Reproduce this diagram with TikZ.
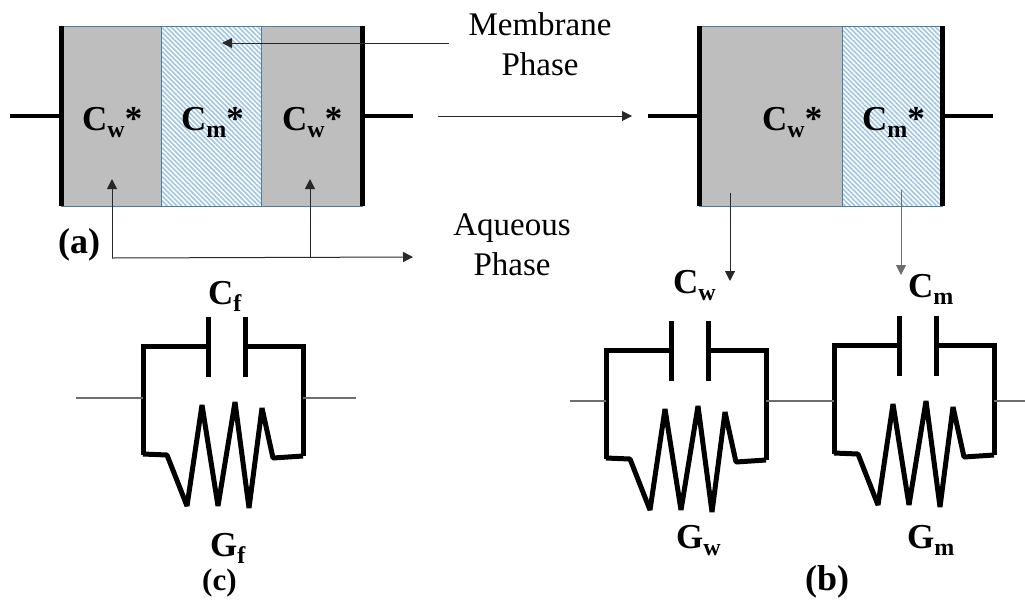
\documentclass[tikz,border=0pt]{standalone}
\usepackage{xcolor}
\usepackage{fontspec}
\setmainfont{Liberation Serif}
\usepackage{tikz}
\usetikzlibrary{arrows.meta, positioning, patterns.meta}
\definecolor{myedge}{RGB}{75,125,165}
\definecolor{mygray}{RGB}{190,190,190}
\definecolor{myhatch}{RGB}{160,198,228}
\definecolor{mywire}{RGB}{110,110,110}
\definecolor{mythin}{RGB}{40,40,40}
\newcommand{\symb}[2]{\textbf{#1\raisebox{-0.2em}{\fontsize{24}{24}\selectfont #2}}}
\tikzset{
  graycell/.style={rectangle, draw=myedge, fill=mygray, line width=1pt,
    minimum height=180pt, inner sep=0pt, outer sep=0pt},
  hatchcell/.style={rectangle, draw=myedge, line width=1pt,
    pattern={Lines[angle=-45,distance=3.4pt,line width=1.6pt]}, pattern color=myhatch,
    minimum height=180pt, inner sep=0pt, outer sep=0pt},
  bar/.style={line width=5pt, color=black, line cap=butt},
  lead/.style={line width=4.5pt, color=black},
  wire/.style={line width=1.1pt, color=mywire},
  arrow/.style={-{Triangle[length=10pt,width=10pt]}, line width=1pt, color=mythin},
  cell/.style={anchor=base west, inner sep=0pt, font=\fontsize{35}{36}\selectfont},
  tag/.style={anchor=base west, inner sep=0pt, font=\fontsize{36}{38}\selectfont\bfseries},
  caption/.style={align=center, inner sep=0pt, font=\fontsize{33}{39.5}\selectfont},
  circ/.style={line width=5pt, color=black, line join=miter},
  zigzag/.style={line width=5pt, color=black, line join=bevel},
  pics/rcunit/.style={code={
    \coordinate (-l) at (0,51);
    \coordinate (-r) at (160,51);
    \draw[circ] (65,-29) -- (65,31);
    \draw[circ] (102,-29) -- (102,31);
    \draw[circ] (0,109) -- (0,0) -- (65,0);
    \draw[circ] (102,0) -- (160,0) -- (160,110);
    \draw[zigzag] (0,108) -- (24,109) -- (44,160) -- (59,59) -- (75,160) -- (92,56)
      -- (106,162) -- (119,62) -- (130,112) -- (160,110);
  }}
}
\begin{document}
\begin{tikzpicture}[x=1pt, y=-1pt, node distance=0pt]
  \useasboundingbox (0,0) rectangle (1025,606);

  % panel a
  \node[graycell, minimum width=100pt, anchor=north west] (wleft) at (61,26) {};
  \node[hatchcell, minimum width=100pt, right=of wleft] (mmid) {};
  \node[graycell, minimum width=101pt, right=of mmid] (wright) {};
  \draw[bar] (wleft.north west) -- (wleft.south west);
  \draw[bar] (wright.north east) -- (wright.south east);
  \coordinate (aleft) at (10,116);
  \coordinate (aright) at (413,116);
  \draw[lead] (aleft) -- (aleft -| wleft.west);
  \draw[lead] (aright -| wright.east) -- (aright);
  \node[cell] (lwleft) at (82,130) {\symb{C}{w}\textbf{*}};
  \node[cell] (lmmid) at (181,130) {\symb{C}{m}\textbf{*}};
  \node[cell] (lwright) at (282,130) {\symb{C}{w}\textbf{*}};

  % panel b
  \node[graycell, minimum width=143pt, anchor=north west] (wb) at (699,26) {};
  \node[hatchcell, minimum width=100pt, right=of wb] (mb) {};
  \draw[bar] (wb.north west) -- (wb.south west);
  \draw[bar] (mb.north east) -- (mb.south east);
  \coordinate (bleft) at (648,116);
  \coordinate (bright) at (993,116);
  \draw[lead] (bleft) -- (bleft -| wb.west);
  \draw[lead] (bright -| mb.east) -- (bright);
  \node[cell] (lwb) at (762,130) {\symb{C}{w}\textbf{*}};
  \node[cell] (lmb) at (862,130) {\symb{C}{m}\textbf{*}};

  % captions
  \node[caption] (membrane) at (540,44) {Membrane\\Phase};
  \node[caption] (aqueous) at (512,245) {Aqueous\\Phase};
  \node[tag] (taga) at (58,253) {(a)};
  \node[tag] (tagb) at (805,590) {(b)};
  \node[tag, font=\fontsize{31}{33}\selectfont\bfseries] (tagc) at (202,590) {(c)};

  % arrows
  \coordinate (memfrom) at (449,43);
  \coordinate (memto) at (222,43);
  \draw[arrow] (memfrom) -- (memto);
  \coordinate (aqcorner) at (112,258);
  \coordinate (aqend) at (413,257);
  \coordinate (aqa) at (112,179);
  \coordinate (aqb) at (310,179);
  \draw[arrow] (aqcorner) -- (aqa);
  \draw[arrow] (aqcorner) -- (aqend);
  \draw[arrow] (aqb |- aqend) -- (aqb);
  \coordinate (stepfrom) at (438,116);
  \coordinate (stepto) at (632,116);
  \draw[arrow] (stepfrom) -- (stepto);
  \coordinate (wbfrom) at (730,193);
  \coordinate (wbto) at (730,281);
  \coordinate (mbfrom) at (901,190);
  \coordinate (mbto) at (901,275);
  \draw[arrow] (wbfrom) -- (wbto);
  \draw[arrow, color=mywire] (mbfrom) -- (mbto);

  % circuits
  \pic (cf) at (143,346) {rcunit};
  \pic (cw) at (606,350) {rcunit};
  \pic (cm) at (834,345) {rcunit};
  \coordinate (inf) at (76,398);
  \coordinate (outf) at (356,398);
  \coordinate (inb) at (570,401);
  \coordinate (outb) at (1025,401);
  \draw[wire] (inf) -- (inf -| cf-l);
  \draw[wire] (cf-r |- outf) -- (outf);
  \draw[wire] (inb) -- (cw-l);
  \draw[wire] (cw-r) -- (cw-r -| cm-l);
  \draw[wire] (outb -| cm-r) -- (outb);

  \node[cell] (ccf) at (208,304) {\symb{C}{f}};
  \node[cell] (gcf) at (210,556) {\symb{G}{f}};
  \node[cell] (ccw) at (673,293) {\symb{C}{w}};
  \node[cell] (gcw) at (676,548) {\symb{G}{w}};
  \node[cell] (ccm) at (908,297) {\symb{C}{m}};
  \node[cell] (gcm) at (907,548) {\symb{G}{m}};
\end{tikzpicture}
\end{document}
